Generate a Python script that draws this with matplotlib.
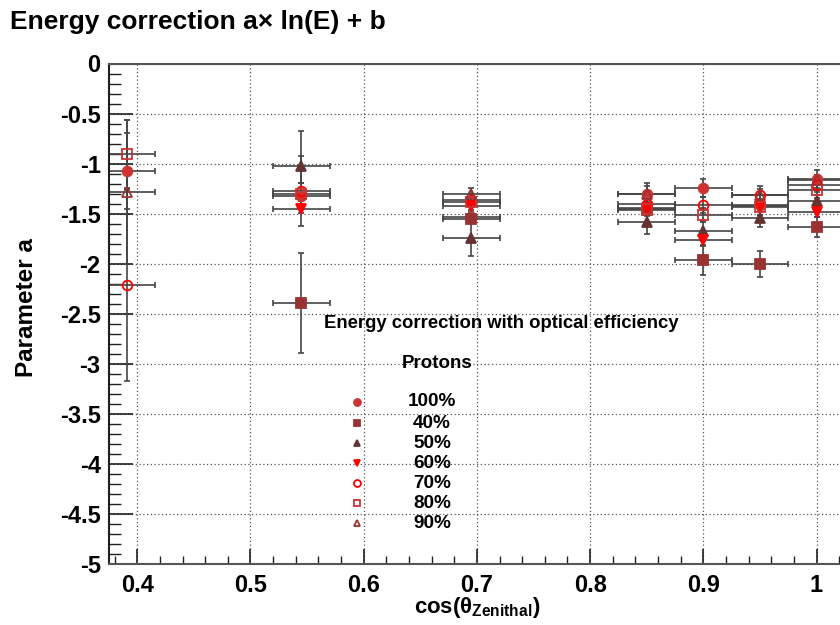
import numpy as np
import matplotlib
matplotlib.use("Agg")
import matplotlib.pyplot as plt
from matplotlib.lines import Line2D
from matplotlib.ticker import MultipleLocator, FixedLocator

# ---------------- data ----------------
cos_zen = [0.391, 0.545, 0.695, 0.85, 0.90, 0.95, 1.0]
x_err = 0.025
labels = ["100%", "40%", "50%", "60%", "70%", "80%", "90%"]
x_ticks = [0.4, 0.5, 0.6, 0.7, 0.8, 0.9, 1.0]
x_tick_labels = ["0.4", "0.5", "0.6", "0.7", "0.8", "0.9", "1"]
y_ticks = [-5, -4.5, -4, -3.5, -3, -2.5, -2, -1.5, -1, -0.5, 0]
y_tick_labels = ["-5", "-4.5", "-4", "-3.5", "-3", "-2.5", "-2", "-1.5", "-1", "-0.5", "0"]

a_100 = [-1.07, -1.32, -1.53, -1.30, -1.24, -1.41, -1.15]
e_100 = [0.38, 0.13, 0.05, 0.11, 0.09, 0.10, 0.09]
a_40 = [np.nan, -2.39, -1.55, -1.46, -1.96, -2.00, -1.63]
e_40 = [0.0, 0.50, 0.04, 0.06, 0.15, 0.13, 0.10]
a_50 = [np.nan, -1.02, -1.74, -1.58, -1.67, -1.54, -1.37]
e_50 = [0.0, 0.35, 0.18, 0.12, 0.10, 0.09, 0.06]
a_60 = [np.nan, -1.45, -1.42, -1.44, -1.76, -1.42, -1.48]
e_60 = [0.0, 0.04, 0.04, 0.05, 0.06, 0.05, 0.05]
a_70 = [-2.21, -1.27, -1.36, -1.40, -1.41, -1.31, -1.21]
e_70 = [0.96, 0.35, 0.06, 0.07, 0.08, 0.09, 0.07]
a_80 = [-0.90, -1.30, -1.38, -1.45, -1.51, -1.43, -1.26]
e_80 = [0.34, 0.11, 0.05, 0.06, 0.07, 0.08, 0.08]
a_90 = [-1.28, np.nan, -1.30, -1.30, np.nan, -1.31, -1.16]
e_90 = [0.72, 0.0, 0.06, 0.08, 0.0, 0.06, 0.05]

series_vals = [a_100, a_40, a_50, a_60, a_70, a_80, a_90]
series_errs = [e_100, e_40, e_50, e_60, e_70, e_80, e_90]
markers = ["o", "s", "^", "v", "o", "s", "^"]
colors = ["#cc3333", "#993333", "#663333", "#ff0000", "#ff0000", "#cc3333", "#993333"]
filled = [True, True, True, True, False, False, False]

# ---------------- style ----------------
FONT = ["Liberation Sans", "DejaVu Sans"]
plt.rcParams["font.family"] = FONT
plt.rcParams["font.weight"] = "bold"
plt.rcParams["mathtext.fontset"] = "custom"
plt.rcParams["mathtext.rm"] = "Liberation Sans:bold"
plt.rcParams["mathtext.it"] = "Liberation Sans:bold"
plt.rcParams["mathtext.bf"] = "Liberation Sans:bold"
plt.rcParams["mathtext.sf"] = "Liberation Sans:bold"

W, H = 840, 625
fig = plt.figure(figsize=(W / 100, H / 100), dpi=100)

x0, x1 = 0.375, 1.05
y0, y1 = -5.0, 0.0
ax_left_px, ax_top_px, ax_bot_px = 109, 63.5, 564
width_px = (x1 - x0) * 1132
ax = fig.add_axes([ax_left_px / W, (H - ax_bot_px) / H, width_px / W, (ax_bot_px - ax_top_px) / H])
ax.set_xlim(x0, x1)
ax.set_ylim(y0, y1)

for vals, errs, m, c, f in zip(series_vals, series_errs, markers, colors, filled):
    ax.errorbar(cos_zen, vals, yerr=errs, xerr=x_err, fmt="none",
                ecolor="#444444", elinewidth=1.2, capsize=2.5, capthick=1.2, zorder=2)
    ax.plot(cos_zen, vals, linestyle="none", marker=m, markersize=7 if m != "s" else 6.5,
            markerfacecolor=c if f else "none", markeredgecolor=c,
            markeredgewidth=1.3, zorder=3)

# axes / ticks
ax.xaxis.set_major_locator(FixedLocator(x_ticks))
ax.xaxis.set_minor_locator(MultipleLocator(0.02))
ax.yaxis.set_major_locator(FixedLocator(y_ticks))
ax.yaxis.set_minor_locator(MultipleLocator(0.1))
ax.set_xticklabels(x_tick_labels)
ax.set_yticklabels(y_tick_labels)
ax.tick_params(axis="both", which="both", direction="in", colors="#202020")
ax.tick_params(axis="y", which="major", length=17, width=1.2, pad=6)
ax.tick_params(axis="y", which="minor", length=8.5, width=1.0)
ax.tick_params(axis="x", which="major", length=11, width=1.2, pad=7)
ax.tick_params(axis="x", which="minor", length=5.5, width=1.0)
ax.tick_params(top=False, right=False)
for lab in ax.get_xticklabels() + ax.get_yticklabels():
    lab.set_fontweight("bold")
    lab.set_fontsize(17)
    lab.set_color("black")
for sp in ax.spines.values():
    sp.set_color("#555555")
    sp.set_linewidth(1.5)
ax.spines["left"].set_color("#202020")

ax.grid(True, which="major", linestyle=(0, (1, 2)), color="#555555", linewidth=0.9)
ax.set_axisbelow(True)

# axis titles
fig.text(27 / W, 1 - 308 / H, "Parameter a", rotation=90, ha="center", va="center",
         fontsize=17.5, fontweight="bold")
fig.text(477 / W, 1 - 608 / H, r"cos($\theta_{\mathrm{Zenithal}}$)", ha="center", va="center",
         fontsize=16, fontweight="bold")

# main title
fig.text(10 / W, 1 - 10 / H, "Energy correction a\u00d7 ln(E) + b", ha="left", va="top",
         fontsize=19, fontweight="bold")

# legend (manual, ROOT style)
fig.text(501 / W, 1 - 323 / H, "Energy correction with optical efficiency", ha="center",
         va="center", fontsize=13.3, fontweight="bold")
fig.text(437 / W, 1 - 364 / H, "Protons", ha="center", va="center", fontsize=13.5,
         fontweight="bold")
leg_y_px = [402, 423, 443, 463, 483, 503, 523]
for lab, m, c, f, yp in zip(labels, markers, colors, filled, leg_y_px):
    fig.add_artist(Line2D([357 / W], [1 - yp / H], marker=m, markersize=5 if m != "s" else 4.6,
                          markerfacecolor=c if f else "none", markeredgecolor=c,
                          markeredgewidth=1.3, linestyle="none", transform=fig.transFigure))
    fig.text(432 / W, 1 - yp / H, lab, ha="center", va="center", fontsize=13.6, fontweight="bold")

fig.savefig("out.png", dpi=100)
